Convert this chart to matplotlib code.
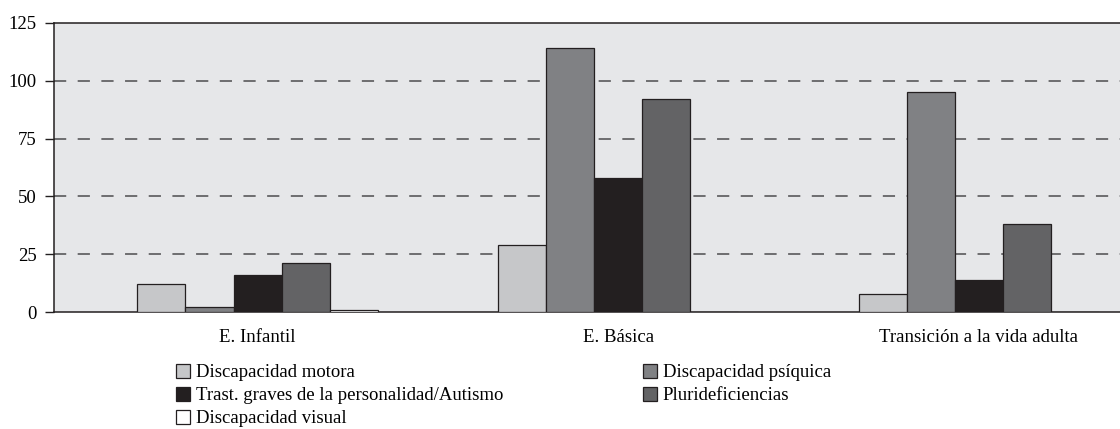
import matplotlib.pyplot as plt
from matplotlib.patches import Patch
import numpy as np

plt.rcParams['font.family'] = ['Liberation Serif', 'DejaVu Serif']

categorias = ["E. Infantil", "E. Básica", "Transición a la vida adulta"]
series = ["Discapacidad motora", "Discapacidad psíquica",
          "Trast. graves de la personalidad/Autismo", "Plurideficiencias",
          "Discapacidad visual"]
motora = [12, 29, 8]
psiquica = [2, 114, 95]
trast = [16, 58, 14]
pluri = [21, 92, 38]
visual = [1, 0, 0]
valores = [motora, psiquica, trast, pluri, visual]
colores = ["#c6c7c9", "#808184", "#231f20", "#636365", "#ffffff"]
yticks = [0, 25, 50, 75, 100, 125]

fig = plt.figure(figsize=(11.2, 4.29), dpi=100)
ax = fig.add_axes([0.0482, 0.2727, 0.9518, 0.6737])
ax.set_facecolor("#e6e7e9")

x = np.arange(len(categorias))
w = 0.1332
for i, (vals, col) in enumerate(zip(valores, colores)):
    ax.bar(x + (i - 2) * w, vals, width=w, color=col, edgecolor="#231f20",
           linewidth=0.9, zorder=3)

# lineas de guia discontinuas
for v in yticks[1:-1]:
    ax.axhline(v, color="#4d4d4f", linewidth=1.1, dashes=(8, 7.5), zorder=1)

ax.set_xlim(-0.5645, 2.392)
ax.set_ylim(0, 125)
ax.set_yticks(yticks)
ax.set_xticks(x)
ax.set_xticklabels(categorias, fontsize=13.5)
ax.tick_params(axis='x', length=0, pad=12)
ax.tick_params(axis='y', length=6.5, width=1, color="#231f20", pad=6, labelsize=13.5)
for s in ["left", "top", "bottom"]:
    ax.spines[s].set_color("#231f20")
    ax.spines[s].set_linewidth(1.1)
ax.spines["right"].set_visible(False)

# leyenda en dos columnas
orden1 = [0, 2, 4]
orden2 = [1, 3]
kw = dict(frameon=False, fontsize=13.5, handlelength=0.75, handleheight=0.75,
          handletextpad=0.3, labelspacing=0.3, borderpad=0, borderaxespad=0)
h1 = [Patch(facecolor=colores[i], edgecolor="#231f20", linewidth=0.9) for i in orden1]
h2 = [Patch(facecolor=colores[i], edgecolor="#231f20", linewidth=0.9) for i in orden2]
fig.legend(h1, [series[i] for i in orden1], loc="upper left",
           bbox_to_anchor=(176 / 1120, 1 - 364 / 429), **kw)
fig.legend(h2, [series[i] for i in orden2], loc="upper left",
           bbox_to_anchor=(643 / 1120, 1 - 364 / 429), **kw)

plt.savefig("out.png", dpi=100)
